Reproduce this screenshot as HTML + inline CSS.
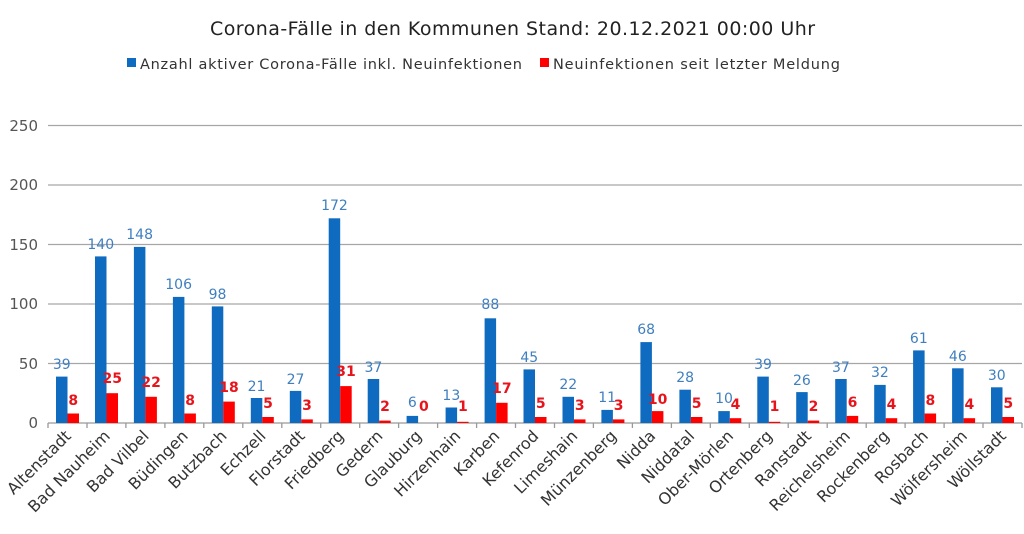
<!DOCTYPE html>
<html><head><meta charset="utf-8"><style>
html,body{margin:0;padding:0;background:#fff;width:1024px;height:534px;overflow:hidden}
svg{display:block;font-family:"DejaVu Sans","Liberation Sans",sans-serif}
.b{fill:#0f6bbf}.r{fill:#f00}
.bl{fill:#3f7fbf;font-size:14px;text-anchor:middle}
.rl{fill:#e8141c;font-size:14px;font-weight:bold;text-anchor:middle}
.cl{fill:#333;font-size:16px;text-anchor:end}
.yl{fill:#555;font-size:15px;text-anchor:end}
</style></head><body>
<svg width="1024" height="534" viewBox="0 0 1024 534">
<text x="210" y="35" font-size="19" fill="#222" textLength="605">Corona-Fälle in den Kommunen Stand: 20.12.2021 00:00 Uhr</text>
<rect x="127" y="58" width="9" height="9" fill="#0f6bbf"/>
<text x="140" y="69" font-size="14.5" fill="#333" textLength="382">Anzahl aktiver Corona-Fälle inkl. Neuinfektionen</text>
<rect x="540" y="58" width="9" height="9" fill="#f00"/>
<text x="553" y="69" font-size="14.5" fill="#333" textLength="287">Neuinfektionen seit letzter Meldung</text>
<g stroke="#a6a6a6" stroke-width="1.3">
<line x1="48" x2="1022" y1="125.5" y2="125.5"/><line x1="48" x2="1022" y1="185" y2="185"/>
<line x1="48" x2="1022" y1="244.5" y2="244.5"/><line x1="48" x2="1022" y1="304" y2="304"/>
<line x1="48" x2="1022" y1="363.5" y2="363.5"/><line x1="48" x2="1022" y1="423" y2="423" stroke="#999"/>
</g>
<text class="yl" x="38" y="131">250</text><text class="yl" x="38" y="190">200</text>
<text class="yl" x="38" y="250">150</text><text class="yl" x="38" y="309">100</text>
<text class="yl" x="38" y="369">50</text><text class="yl" x="38" y="428">0</text>
<g stroke="#999" stroke-width="1.3">
<line x1="48" x2="48" y1="423" y2="428"/><line x1="87" x2="87" y1="423" y2="428"/><line x1="125.9" x2="125.9" y1="423" y2="428"/><line x1="164.9" x2="164.9" y1="423" y2="428"/><line x1="203.8" x2="203.8" y1="423" y2="428"/><line x1="242.8" x2="242.8" y1="423" y2="428"/><line x1="281.8" x2="281.8" y1="423" y2="428"/><line x1="320.7" x2="320.7" y1="423" y2="428"/><line x1="359.7" x2="359.7" y1="423" y2="428"/><line x1="398.6" x2="398.6" y1="423" y2="428"/><line x1="437.6" x2="437.6" y1="423" y2="428"/><line x1="476.6" x2="476.6" y1="423" y2="428"/><line x1="515.5" x2="515.5" y1="423" y2="428"/><line x1="554.5" x2="554.5" y1="423" y2="428"/><line x1="593.4" x2="593.4" y1="423" y2="428"/><line x1="632.4" x2="632.4" y1="423" y2="428"/><line x1="671.4" x2="671.4" y1="423" y2="428"/><line x1="710.3" x2="710.3" y1="423" y2="428"/><line x1="749.3" x2="749.3" y1="423" y2="428"/><line x1="788.2" x2="788.2" y1="423" y2="428"/><line x1="827.2" x2="827.2" y1="423" y2="428"/><line x1="866.2" x2="866.2" y1="423" y2="428"/><line x1="905.1" x2="905.1" y1="423" y2="428"/><line x1="944.1" x2="944.1" y1="423" y2="428"/><line x1="983" x2="983" y1="423" y2="428"/><line x1="1022" x2="1022" y1="423" y2="428"/>
</g>
<g transform="translate(48,0)"><rect class="b" x="8" y="376.6" width="11.5" height="46.4"/><rect class="r" x="19.5" y="413.5" width="11.5" height="9.5"/><text class="bl" x="13.75" y="369">39</text><text class="rl" x="25.25" y="405">8</text><text class="cl" transform="translate(24,437) rotate(-45)">Altenstadt</text></g>
<g transform="translate(87,0)"><rect class="b" x="8" y="256.4" width="11.5" height="166.6"/><rect class="r" x="19.5" y="393.2" width="11.5" height="29.8"/><text class="bl" x="13.75" y="249">140</text><text class="rl" x="25.25" y="383">25</text><text class="cl" transform="translate(24,437) rotate(-45)">Bad Nauheim</text></g>
<g transform="translate(125.9,0)"><rect class="b" x="8" y="246.9" width="11.5" height="176.1"/><rect class="r" x="19.5" y="396.8" width="11.5" height="26.2"/><text class="bl" x="13.75" y="239">148</text><text class="rl" x="25.25" y="387">22</text><text class="cl" transform="translate(24,437) rotate(-45)">Bad Vilbel</text></g>
<g transform="translate(164.9,0)"><rect class="b" x="8" y="296.9" width="11.5" height="126.1"/><rect class="r" x="19.5" y="413.5" width="11.5" height="9.5"/><text class="bl" x="13.75" y="289">106</text><text class="rl" x="25.25" y="405">8</text><text class="cl" transform="translate(24,437) rotate(-45)">Büdingen</text></g>
<g transform="translate(203.8,0)"><rect class="b" x="8" y="306.4" width="11.5" height="116.6"/><rect class="r" x="19.5" y="401.6" width="11.5" height="21.4"/><text class="bl" x="13.75" y="299">98</text><text class="rl" x="25.25" y="392">18</text><text class="cl" transform="translate(24,437) rotate(-45)">Butzbach</text></g>
<g transform="translate(242.8,0)"><rect class="b" x="8" y="398" width="11.5" height="25"/><rect class="r" x="19.5" y="417" width="11.5" height="6"/><text class="bl" x="13.75" y="391">21</text><text class="rl" x="25.25" y="408">5</text><text class="cl" transform="translate(24,437) rotate(-45)">Echzell</text></g>
<g transform="translate(281.8,0)"><rect class="b" x="8" y="390.9" width="11.5" height="32.1"/><rect class="r" x="19.5" y="419.4" width="11.5" height="3.6"/><text class="bl" x="13.75" y="384">27</text><text class="rl" x="25.25" y="410">3</text><text class="cl" transform="translate(24,437) rotate(-45)">Florstadt</text></g>
<g transform="translate(320.7,0)"><rect class="b" x="8" y="218.3" width="11.5" height="204.7"/><rect class="r" x="19.5" y="386.1" width="11.5" height="36.9"/><text class="bl" x="13.75" y="210">172</text><text class="rl" x="25.25" y="376">31</text><text class="cl" transform="translate(24,437) rotate(-45)">Friedberg</text></g>
<g transform="translate(359.7,0)"><rect class="b" x="8" y="379" width="11.5" height="44"/><rect class="r" x="19.5" y="420.6" width="11.5" height="2.4"/><text class="bl" x="13.75" y="372">37</text><text class="rl" x="25.25" y="411">2</text><text class="cl" transform="translate(24,437) rotate(-45)">Gedern</text></g>
<g transform="translate(398.6,0)"><rect class="b" x="8" y="415.9" width="11.5" height="7.1"/><text class="bl" x="13.75" y="407">6</text><text class="rl" x="25.25" y="411">0</text><text class="cl" transform="translate(24,437) rotate(-45)">Glauburg</text></g>
<g transform="translate(437.6,0)"><rect class="b" x="8" y="407.5" width="11.5" height="15.5"/><rect class="r" x="19.5" y="421.8" width="11.5" height="1.2"/><text class="bl" x="13.75" y="400">13</text><text class="rl" x="25.25" y="411">1</text><text class="cl" transform="translate(24,437) rotate(-45)">Hirzenhain</text></g>
<g transform="translate(476.6,0)"><rect class="b" x="8" y="318.3" width="11.5" height="104.7"/><rect class="r" x="19.5" y="402.8" width="11.5" height="20.2"/><text class="bl" x="13.75" y="309">88</text><text class="rl" x="25.25" y="393">17</text><text class="cl" transform="translate(24,437) rotate(-45)">Karben</text></g>
<g transform="translate(515.5,0)"><rect class="b" x="8" y="369.4" width="11.5" height="53.6"/><rect class="r" x="19.5" y="417" width="11.5" height="6"/><text class="bl" x="13.75" y="362">45</text><text class="rl" x="25.25" y="408">5</text><text class="cl" transform="translate(24,437) rotate(-45)">Kefenrod</text></g>
<g transform="translate(554.5,0)"><rect class="b" x="8" y="396.8" width="11.5" height="26.2"/><rect class="r" x="19.5" y="419.4" width="11.5" height="3.6"/><text class="bl" x="13.75" y="389">22</text><text class="rl" x="25.25" y="410">3</text><text class="cl" transform="translate(24,437) rotate(-45)">Limeshain</text></g>
<g transform="translate(593.4,0)"><rect class="b" x="8" y="409.9" width="11.5" height="13.1"/><rect class="r" x="19.5" y="419.4" width="11.5" height="3.6"/><text class="bl" x="13.75" y="402">11</text><text class="rl" x="25.25" y="410">3</text><text class="cl" transform="translate(24,437) rotate(-45)">Münzenberg</text></g>
<g transform="translate(632.4,0)"><rect class="b" x="8" y="342.1" width="11.5" height="80.9"/><rect class="r" x="19.5" y="411.1" width="11.5" height="11.9"/><text class="bl" x="13.75" y="334">68</text><text class="rl" x="25.25" y="404">10</text><text class="cl" transform="translate(24,437) rotate(-45)">Nidda</text></g>
<g transform="translate(671.4,0)"><rect class="b" x="8" y="389.7" width="11.5" height="33.3"/><rect class="r" x="19.5" y="417" width="11.5" height="6"/><text class="bl" x="13.75" y="382">28</text><text class="rl" x="25.25" y="408">5</text><text class="cl" transform="translate(24,437) rotate(-45)">Niddatal</text></g>
<g transform="translate(710.3,0)"><rect class="b" x="8" y="411.1" width="11.5" height="11.9"/><rect class="r" x="19.5" y="418.2" width="11.5" height="4.8"/><text class="bl" x="13.75" y="403">10</text><text class="rl" x="25.25" y="409">4</text><text class="cl" transform="translate(24,437) rotate(-45)">Ober-Mörlen</text></g>
<g transform="translate(749.3,0)"><rect class="b" x="8" y="376.6" width="11.5" height="46.4"/><rect class="r" x="19.5" y="421.8" width="11.5" height="1.2"/><text class="bl" x="13.75" y="369">39</text><text class="rl" x="25.25" y="411">1</text><text class="cl" transform="translate(24,437) rotate(-45)">Ortenberg</text></g>
<g transform="translate(788.2,0)"><rect class="b" x="8" y="392.1" width="11.5" height="30.9"/><rect class="r" x="19.5" y="420.6" width="11.5" height="2.4"/><text class="bl" x="13.75" y="385">26</text><text class="rl" x="25.25" y="411">2</text><text class="cl" transform="translate(24,437) rotate(-45)">Ranstadt</text></g>
<g transform="translate(827.2,0)"><rect class="b" x="8" y="379" width="11.5" height="44"/><rect class="r" x="19.5" y="415.9" width="11.5" height="7.1"/><text class="bl" x="13.75" y="372">37</text><text class="rl" x="25.25" y="407">6</text><text class="cl" transform="translate(24,437) rotate(-45)">Reichelsheim</text></g>
<g transform="translate(866.2,0)"><rect class="b" x="8" y="384.9" width="11.5" height="38.1"/><rect class="r" x="19.5" y="418.2" width="11.5" height="4.8"/><text class="bl" x="13.75" y="377">32</text><text class="rl" x="25.25" y="409">4</text><text class="cl" transform="translate(24,437) rotate(-45)">Rockenberg</text></g>
<g transform="translate(905.1,0)"><rect class="b" x="8" y="350.4" width="11.5" height="72.6"/><rect class="r" x="19.5" y="413.5" width="11.5" height="9.5"/><text class="bl" x="13.75" y="343">61</text><text class="rl" x="25.25" y="405">8</text><text class="cl" transform="translate(24,437) rotate(-45)">Rosbach</text></g>
<g transform="translate(944.1,0)"><rect class="b" x="8" y="368.3" width="11.5" height="54.7"/><rect class="r" x="19.5" y="418.2" width="11.5" height="4.8"/><text class="bl" x="13.75" y="361">46</text><text class="rl" x="25.25" y="409">4</text><text class="cl" transform="translate(24,437) rotate(-45)">Wölfersheim</text></g>
<g transform="translate(983,0)"><rect class="b" x="8" y="387.3" width="11.5" height="35.7"/><rect class="r" x="19.5" y="417" width="11.5" height="6"/><text class="bl" x="13.75" y="380">30</text><text class="rl" x="25.25" y="408">5</text><text class="cl" transform="translate(24,437) rotate(-45)">Wöllstadt</text></g>
</svg>
</body></html>
